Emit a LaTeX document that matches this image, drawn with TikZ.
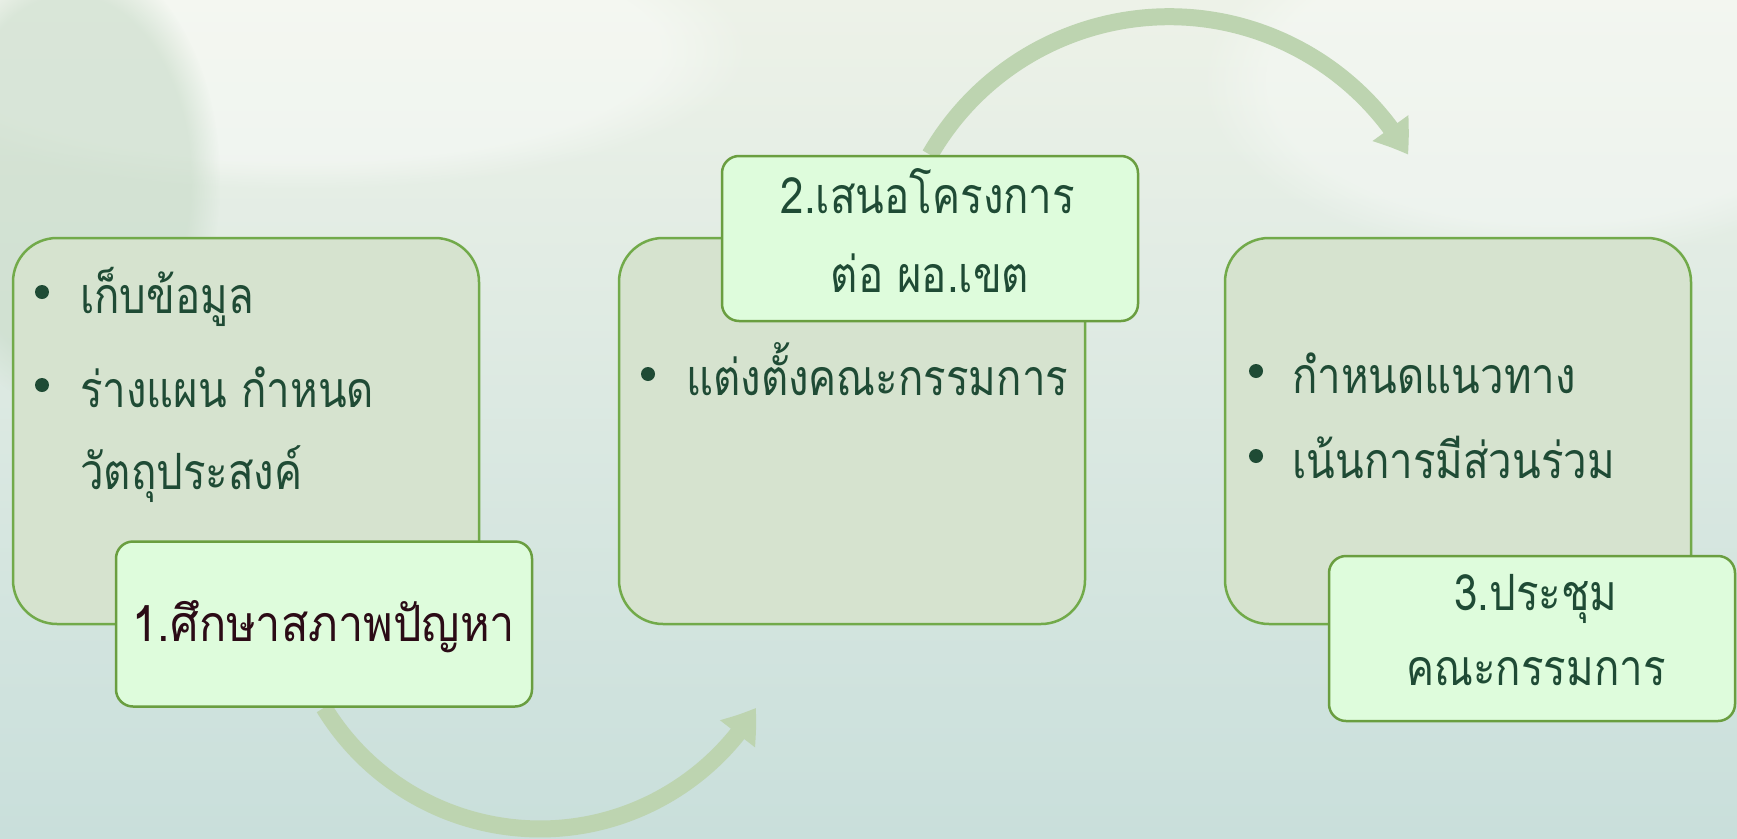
\documentclass[tikz,border=0pt]{standalone}
\usepackage{fontspec}
\newfontfamily\thai[Script=Thai]{Loma}
\usetikzlibrary{arrows.meta,fadings,bending}
\pgfdeclarelayer{bg}\pgfdeclarelayer{arr}
\pgfsetlayers{bg,arr,main}
\definecolor{bgtop}{HTML}{EDF2E8}
\definecolor{bgbot}{HTML}{C9DFDB}
\definecolor{blobg}{HTML}{C8DBC8}
\definecolor{boxfill}{HTML}{D6E3CF}
\definecolor{boxline}{HTML}{72AA4A}
\definecolor{labfill}{HTML}{DEFCDC}
\definecolor{labline}{HTML}{6A9E40}
\definecolor{txtc}{HTML}{1F4B35}
\definecolor{txtd}{HTML}{2B0B16}
\definecolor{flowc}{HTML}{BDD4B0}
\newcommand{\tx}[1]{\scalebox{0.84}[1]{#1}}
\newcommand{\txw}[1]{\scalebox{0.9}[1]{#1}}
\begin{document}
\begin{tikzpicture}[x=1pt,y=-1pt,
  bigbox/.style={draw=boxline, line width=2.5pt, fill=boxfill, rounded corners=44pt,
    minimum width=466pt, minimum height=386pt, inner sep=0pt},
  labbox/.style={draw=labline, line width=2.5pt, fill=labfill, rounded corners=17pt,
    minimum width=416pt, minimum height=165pt, inner sep=0pt},
  txt/.style={font=\thai\fontsize{50}{56}\selectfont, text=txtc, inner sep=0pt},
  dotb/.style={circle, fill=txtc, minimum size=14pt, inner sep=0pt},
  flow/.style={draw=flowc, line width=17pt, -{Triangle[width=42pt,length=32pt,bend]}}]
\useasboundingbox (0,0) rectangle (1737,838);
\begin{pgfonlayer}{bg}
\shade[top color=bgtop, bottom color=bgbot] (0,0) rectangle (1737,838);
\fill[white, fill opacity=0.4, path fading=circle with fuzzy edge 20 percent] (300,50) ellipse (450 and 140);
\fill[white, fill opacity=0.35, path fading=circle with fuzzy edge 20 percent] (1550,80) ellipse (350 and 180);
\fill[blobg, fill opacity=0.6, path fading=circle with fuzzy edge 20 percent] (70,180) ellipse (150 and 230);
\end{pgfonlayer}
% boxes
\node[bigbox] (b1) at (246,431) {};
\node[bigbox] (b2) at (852,431) {};
\node[bigbox] (b3) at (1458,431) {};
\node[labbox] (l1) at (324,624) {};
\node[labbox] (l2) at (930,238.5) {};
\node[labbox, minimum width=406pt] (l3) at (1532,638.5) {};
% box 1 content
\node[dotb] (d11) at (42,292) {};
\node[dotb] (d12) at (42,385) {};
\node[txt, anchor=base west] (t11) at (80,313) {\tx{เก็บข้อมูล}};
\node[txt, anchor=base west] (t12) at (80,407) {\tx{ร่างแผน กำหนด}};
\node[txt, anchor=base west] (t13) at (80,489) {\tx{วัตถุประสงค์}};
% box 2 content
\node[dotb] (d21) at (648,374) {};
\node[txt, anchor=base west] (t21) at (686,395) {\tx{แต่งตั้งคณะกรรมการ}};
% box 3 content
\node[dotb] (d31) at (1256,371) {};
\node[dotb] (d32) at (1256,456) {};
\node[txt, anchor=base west] (t31) at (1292,393) {\tx{กำหนดแนวทาง}};
\node[txt, anchor=base west] (t32) at (1292,478) {\tx{เน้นการมีส่วนร่วม}};
% labels
\node[txt, text=txtd, anchor=base] (tl1) at (324,641) {\txw{1.ศึกษาสภาพปัญหา}};
\node[txt, anchor=base] (tl21) at (928,213) {\tx{2.เสนอโครงการ}};
\node[txt, anchor=base] (tl22) at (930,292) {\tx{ต่อ ผอ.เขต}};
\node[txt, anchor=base] (tl31) at (1536,610) {\tx{3.ประชุม}};
\node[txt, anchor=base] (tl32) at (1536,685) {\tx{คณะกรรมการ}};
% flows
\begin{pgfonlayer}{arr}
\draw[flow] (l1.south) arc[start angle=148.6, end angle=31.4, radius=253];
\draw[flow] (l2.north) arc[start angle=210, end angle=330, radius=276];
\end{pgfonlayer}
\end{tikzpicture}
\end{document}
